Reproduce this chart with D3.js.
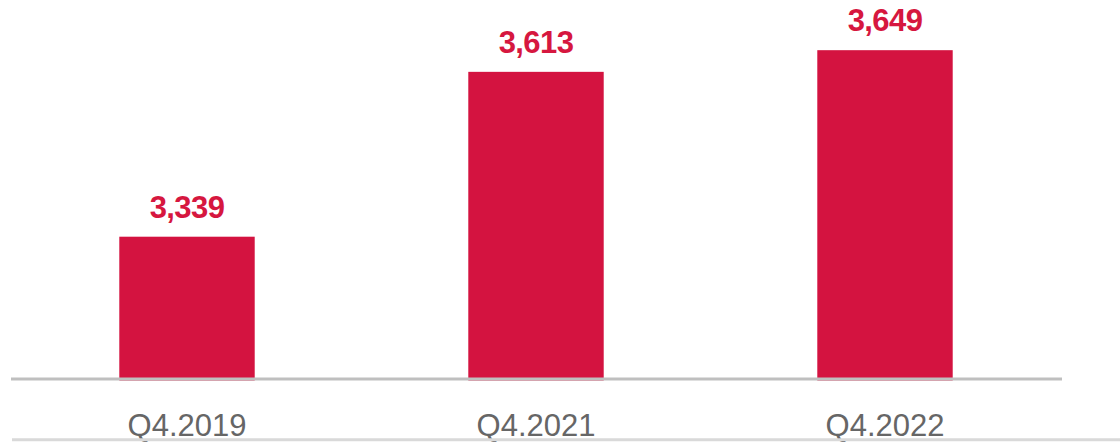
<!DOCTYPE html>
<html>
<head>
<meta charset="utf-8">
<script src="https://cdn.jsdelivr.net/npm/d3@7"></script>
<style>
  html, body { margin: 0; padding: 0; background: #ffffff; }
  svg { display: block; }
</style>
</head>
<body>
<svg id="chart" width="1120" height="442"></svg>
<script>
// Quarter-end totals
const categories = ["Q4.2019", "Q4.2021", "Q4.2022"];
const values = [3339, 3613, 3649];
const yDomain = [3100, 3700];

const svg = d3.select("#chart");
const W = 1120, H = 442;
const barColor = "#d41340";
const labelColor = "#d6173f";
const axisY = 379;

const x = d3.scaleBand()
  .domain(categories)
  .range([12.5, 1059.5])
  .paddingInner(0.612)
  .paddingOuter(0.306);

const y = d3.scaleLinear()
  .domain(yDomain)
  .range([380.5, 19.5]);

const data = categories.map((c, i) => ({ cat: c, value: values[i] }));

// bars
svg.append("g")
  .selectAll("rect")
  .data(data)
  .join("rect")
  .attr("x", d => x(d.cat))
  .attr("y", d => y(d.value))
  .attr("width", x.bandwidth())
  .attr("height", d => y(yDomain[0]) - y(d.value))
  .attr("fill", barColor);

// value labels above bars
svg.append("g")
  .selectAll("text")
  .data(data)
  .join("text")
  .attr("x", d => x(d.cat) + x.bandwidth() / 2)
  .attr("y", d => y(d.value) - 19)
  .attr("text-anchor", "middle")
  .attr("font-family", "'Liberation Sans', Arial, sans-serif")
  .attr("font-weight", "bold")
  .attr("font-size", 31)
  .attr("letter-spacing", -0.6)
  .attr("fill", labelColor)
  .text(d => d3.format(",")(d.value));

// category axis
const xAxis = d3.axisBottom(x).tickSize(0).tickPadding(0);
const gx = svg.append("g")
  .attr("transform", `translate(0,${axisY})`)
  .call(xAxis);
gx.select(".domain")
  .attr("d", `M11,0H1062`)
  .attr("stroke", "#bfbfbf")
  .attr("stroke-width", 3);
gx.selectAll(".tick text")
  .attr("y", 57)
  .attr("dy", null)
  .attr("font-family", "'Liberation Sans', Arial, sans-serif")
  .attr("font-size", 31)
  .attr("fill", "#666666");

// lower rule along the bottom edge
svg.append("line")
  .attr("x1", 12).attr("x2", W)
  .attr("y1", 439.8).attr("y2", 439.8)
  .attr("stroke", "#d9d9d9")
  .attr("stroke-width", 3);
</script>
</body>
</html>
